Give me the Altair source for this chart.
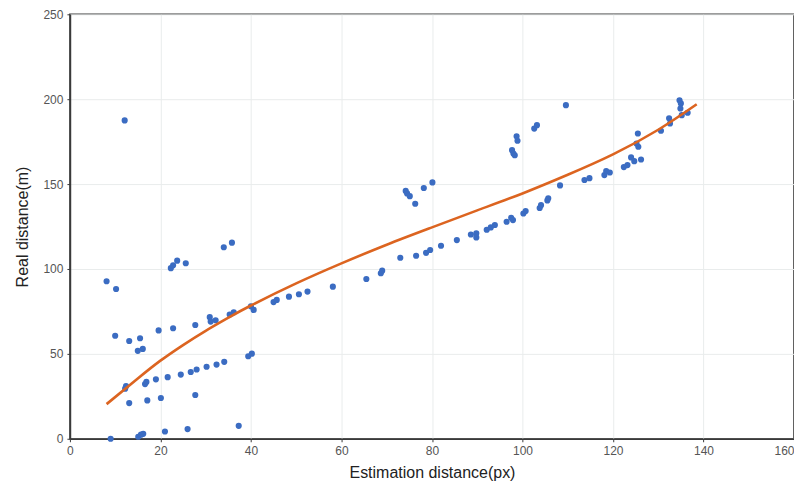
import altair as alt
import pandas as pd

# Scatter points
est_px = [
    8.1, 10.2, 10.0, 13.1, 15.5, 15.0, 16.1, 19.6, 22.8, 27.7, 30.9, 31.1, 32.2,
    12.1, 22.3, 22.8, 23.7, 25.6, 34.0, 35.8, 35.3, 36.2, 40.0, 40.6, 39.4, 40.2,
    12.2, 12.4, 13.1, 16.6, 16.9, 17.1, 19.0, 20.1, 21.6, 24.5, 26.7, 28.0, 30.2,
    32.4, 34.1, 27.7, 37.3, 9.0, 15.1, 15.7, 16.2, 21.0, 26.0,
    45.0, 45.7, 48.4, 50.6, 52.5, 58.1, 65.5, 68.7, 69.0, 73.0, 76.5, 78.7, 79.6,
    82.0, 85.5, 88.6, 89.8, 89.8, 92.1, 93.0, 93.9, 96.5, 97.5, 97.9, 100.2, 100.7,
    103.8, 104.1, 105.5, 105.7,
    74.2, 74.5, 75.1, 76.3, 78.2, 80.1, 97.7, 98.0, 98.3, 98.7, 98.9, 102.6, 103.2,
    109.6,
    108.3, 113.7, 114.8, 118.1, 118.5, 119.3, 122.4, 123.2, 124.0, 124.7, 126.2,
    125.6, 125.2, 125.5, 130.6, 132.4, 132.6, 134.7, 135.0, 134.9, 135.2, 136.5,
]
real_m = [
    92.8, 88.2, 60.7, 57.6, 59.2, 51.8, 52.9, 63.8, 65.1, 67.0, 71.6, 69.0, 69.8,
    187.5, 100.5, 102.2, 104.9, 103.4, 112.8, 115.5, 73.2, 74.5, 78.0, 75.9, 48.6, 50.1,
    29.5, 31.0, 21.0, 32.2, 33.5, 22.6, 35.0, 24.0, 36.3, 37.8, 39.3, 40.8, 42.4,
    43.7, 45.3, 25.8, 7.6, 0.0, 1.2, 2.4, 2.9, 4.3, 5.7,
    80.5, 81.8, 83.7, 85.1, 86.7, 89.6, 94.1, 97.5, 99.0, 106.6, 107.8, 109.5, 111.2,
    113.7, 117.0, 120.3, 121.0, 118.6, 123.1, 124.5, 125.9, 127.8, 130.2, 128.8, 132.7, 134.1,
    135.9, 137.6, 140.4, 141.6,
    146.0, 144.5, 142.9, 138.4, 147.7, 151.0, 170.0, 168.0, 167.0, 178.2, 175.5, 182.7, 184.7,
    196.5,
    149.2, 152.4, 153.5, 155.3, 157.6, 156.8, 160.0, 161.2, 165.7, 163.5, 164.5,
    172.0, 173.9, 179.8, 181.4, 188.8, 185.7, 199.4, 197.5, 194.5, 190.6, 192.0,
]

# Fitted curve
curve_x = [8.1, 15, 20, 25, 30, 35, 40, 50, 60, 70, 80, 90, 100, 110, 120, 130, 138.5]
curve_y = [20.4, 35.5, 46, 55.2, 63.6, 71.3, 78.5, 91.5, 103.3, 114.3, 124.5, 134.5,
           144.5, 155.5, 167.5, 182, 197]

x_ticks = [0, 20, 40, 60, 80, 100, 120, 140, 160]
y_ticks = [0, 50, 100, 150, 200, 250]

pts = pd.DataFrame({"x": est_px, "y": real_m})
crv = pd.DataFrame({"x": curve_x, "y": curve_y})

xs = alt.Scale(domain=[0, 160], nice=False)
ys = alt.Scale(domain=[0, 250], nice=False)

xax = alt.Axis(
    values=x_ticks,
    title="Estimation distance(px)",
    labelAlign={"condition": {"test": "datum.value >= 160", "value": "right"}, "value": "center"},
)
yax = alt.Axis(values=y_ticks, title="Real distance(m)")

points = alt.Chart(pts).mark_circle(size=38, color="#3b6cc2", opacity=1).encode(
    x=alt.X("x:Q", scale=xs, axis=xax),
    y=alt.Y("y:Q", scale=ys, axis=yax),
)

curve = alt.Chart(crv).mark_line(color="#dc6420", strokeWidth=2.6, interpolate="natural").encode(
    x=alt.X("x:Q", scale=xs),
    y=alt.Y("y:Q", scale=ys),
)

chart = (
    alt.layer(points, curve)
    .properties(
        width=725,
        height=425,
        autosize=alt.AutoSizeParams(type="none"),
        padding={"left": 62, "top": 6, "right": 0, "bottom": 60},
    )
    .configure_view(stroke="#3a3a3a", strokeWidth=1.6)
    .configure_axis(
        grid=True,
        gridColor="#e9ecec",
        gridWidth=1,
        domainColor="#3a3a3a",
        domainWidth=1.6,
        tickColor="#3a3a3a",
        tickSize=3,
        labelFont="Liberation Sans",
        labelFontSize=12,
        labelColor="#555555",
        labelPadding=4,
        labelFlush=False,
        titleFont="Liberation Sans",
        titleFontSize=16,
        titleFontWeight="normal",
        titleColor="#222222",
    )
    .configure_axisX(titlePadding=8)
    .configure_axisY(titlePadding=12)
)

chart.save("out.html", embed_options={"renderer": "svg", "actions": False})
